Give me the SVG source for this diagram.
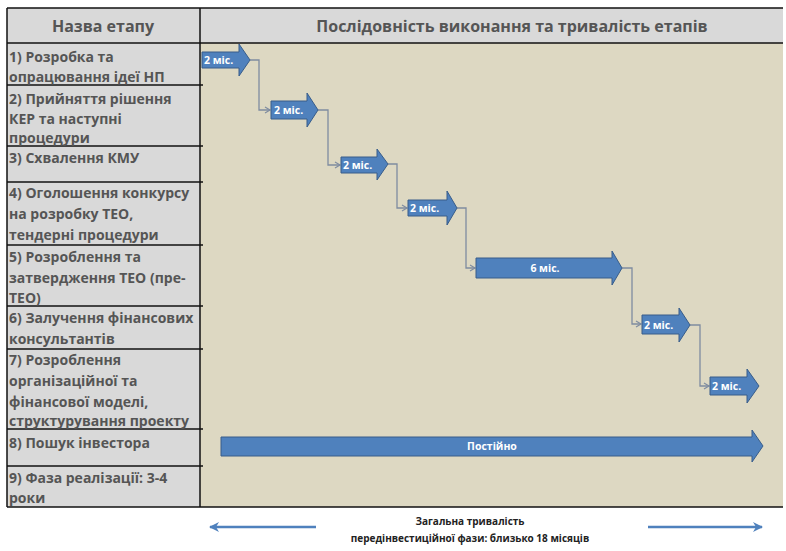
<svg xmlns="http://www.w3.org/2000/svg" width="786" height="551" viewBox="0 0 786 551">
<defs>
<marker id="conn" markerWidth="8" markerHeight="8" refX="6" refY="4" orient="auto" markerUnits="userSpaceOnUse">
<path d="M1,1 L6,4 L1,7" fill="none" stroke="#7f8ca0" stroke-width="1.2"/>
</marker>
<marker id="blue" markerWidth="12" markerHeight="12" refX="9" refY="6" orient="auto" markerUnits="userSpaceOnUse">
<path d="M0,1 L10,6 L0,11 L3,6 Z" fill="#4f81bd"/>
</marker>
<style>
.lbl{font-family:"Open Sans","Liberation Sans",Arial,sans-serif;font-weight:bold;font-size:14px;fill:#555555}
.hdr{font-family:"Open Sans","Liberation Sans",Arial,sans-serif;font-weight:bold;font-size:16px;fill:#555555;text-anchor:middle}
.bar{fill:#4f81bd;stroke:#385d8a;stroke-width:1}
.bt{font-family:"Open Sans","Liberation Sans",Arial,sans-serif;font-weight:bold;font-size:10.5px;fill:#ffffff}
.conn{fill:none;stroke:#7f8ca0;stroke-width:1.3}
.grid{stroke:#111111;stroke-width:1.5;fill:none}
.foot{font-family:"Open Sans","Liberation Sans",Arial,sans-serif;font-weight:bold;font-size:10px;fill:#222222;text-anchor:middle}
</style>
</defs>
<rect x="0" y="0" width="786" height="551" fill="#ffffff"/>
<rect x="7" y="8" width="776" height="35" fill="#d9d9d9"/>
<rect x="7" y="43" width="193" height="464" fill="#d9d9d9"/>
<rect x="200" y="43" width="583" height="464" fill="#ddd8c2"/>
<g id="grid">
<line class="grid" x1="7" y1="8" x2="783" y2="8"/>
<line class="grid" x1="7" y1="43" x2="783" y2="43"/>
<line class="grid" x1="7" y1="507" x2="783" y2="507"/>
<line class="grid" x1="7" y1="8" x2="7" y2="507"/>
<line class="grid" x1="200" y1="8" x2="200" y2="507"/>
<line class="grid" x1="7" y1="85" x2="203" y2="85"/>
<line class="grid" x1="7" y1="146" x2="203" y2="146"/>
<line class="grid" x1="7" y1="182" x2="203" y2="182"/>
<line class="grid" x1="7" y1="245" x2="203" y2="245"/>
<line class="grid" x1="7" y1="306" x2="203" y2="306"/>
<line class="grid" x1="7" y1="349" x2="203" y2="349"/>
<line class="grid" x1="7" y1="429" x2="203" y2="429"/>
<line class="grid" x1="7" y1="466" x2="203" y2="466"/>
</g>
<g id="header">
<text class="hdr" x="103" y="32">Назва етапу</text>
<text class="hdr" x="512" y="32">Послідовність виконання та тривалість етапів</text>
</g>
<g id="row1"><text class="lbl" x="9" y="62">1) Розробка та</text><text class="lbl" x="9" y="82">опрацювання ідеї НП</text></g>
<g id="row2"><text class="lbl" x="9" y="104">2) Прийняття рішення</text><text class="lbl" x="9" y="124">КЕР та наступні</text><text class="lbl" x="9" y="143">процедури</text></g>
<g id="row3"><text class="lbl" x="9" y="163">3) Схвалення КМУ</text></g>
<g id="row4"><text class="lbl" x="9" y="198">4) Оголошення конкурсу</text><text class="lbl" x="9" y="219">на розробку ТЕО,</text><text class="lbl" x="9" y="240">тендерні процедури</text></g>
<g id="row5"><text class="lbl" x="9" y="262">5) Розроблення та</text><text class="lbl" x="9" y="283">затвердження ТЕО (пре-</text><text class="lbl" x="9" y="303">ТЕО)</text></g>
<g id="row6"><text class="lbl" x="9" y="323">6) Залучення фінансових</text><text class="lbl" x="9" y="344">консультантів</text></g>
<g id="row7"><text class="lbl" x="9" y="365">7) Розроблення</text><text class="lbl" x="9" y="386">організаційної та</text><text class="lbl" x="9" y="407">фінансової моделі,</text><text class="lbl" x="9" y="426">структурування проекту</text></g>
<g id="row8"><text class="lbl" x="9" y="448">8) Пошук інвестора</text></g>
<g id="row9"><text class="lbl" x="9" y="483">9) Фаза реалізації: 3-4</text><text class="lbl" x="9" y="503">роки</text></g>
<g id="connectors">
<path class="conn" d="M250,60 H259 V110 H270" marker-end="url(#conn)"/>
<path class="conn" d="M318,110 H328 V165 H340" marker-end="url(#conn)"/>
<path class="conn" d="M388,164 H397 V208 H407" marker-end="url(#conn)"/>
<path class="conn" d="M457,208 H466 V268 H475" marker-end="url(#conn)"/>
<path class="conn" d="M622,268 H632 V324 H641" marker-end="url(#conn)"/>
<path class="conn" d="M690,325 H700 V386 H709" marker-end="url(#conn)"/>
</g>
<g id="bar1"><path class="bar" d="M202,52 H239 V44 L250,60 L239,76 V68 H202 Z"/><text class="bt" x="204" y="64">2 міс.</text></g>
<g id="bar2"><path class="bar" d="M271,101 H307 V93 L318,110 L307,127 V119 H271 Z"/><text class="bt" x="274" y="114">2 міс.</text></g>
<g id="bar3"><path class="bar" d="M341,157 H377 V149 L388,164 L377,180 V173 H341 Z"/><text class="bt" x="343" y="169">2 міс.</text></g>
<g id="bar4"><path class="bar" d="M408,200 H447 V191 L457,208 L447,225 V216 H408 Z"/><text class="bt" x="410" y="212">2 міс.</text></g>
<g id="bar5"><path class="bar" d="M476,258 H612 V251 L622,268 L612,285 V278 H476 Z"/><text class="bt" x="545" y="272" text-anchor="middle">6 міс.</text></g>
<g id="bar6"><path class="bar" d="M642,315 H679 V308 L690,325 L679,342 V334 H642 Z"/><text class="bt" x="644" y="329">2 міс.</text></g>
<g id="bar7"><path class="bar" d="M710,377 H747 V369 L759,386 L747,403 V395 H710 Z"/><text class="bt" x="712" y="390">2 міс.</text></g>
<g id="bar8"><path class="bar" d="M221,437 H752 V430 L763,446 L752,462 V456 H221 Z"/><text class="bt" x="492" y="450" text-anchor="middle">Постійно</text></g>
<g id="footer">
<line x1="316" y1="527" x2="210" y2="527" stroke="#4f81bd" stroke-width="2.5" marker-end="url(#blue)"/>
<line x1="648" y1="527" x2="762" y2="527" stroke="#4f81bd" stroke-width="2.5" marker-end="url(#blue)"/>
<text class="foot" x="470" y="525">Загальна тривалість</text>
<text class="foot" x="470" y="542">передінвестиційної фази: близько 18 місяців</text>
</g>
</svg>
